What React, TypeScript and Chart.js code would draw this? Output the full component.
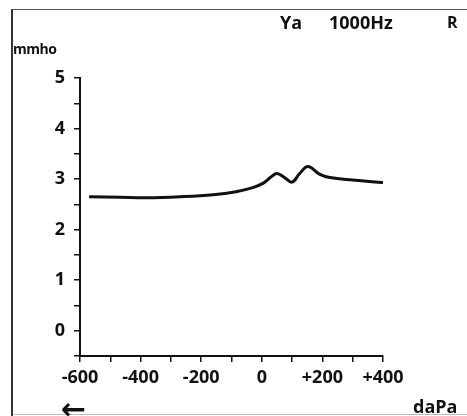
import React, { useEffect, useRef } from "react";
import { Chart, registerables } from "chart.js";

Chart.register(...registerables);

const pressure = [-570, -470, -380, -270, -160, -85, -30, 5, 30, 50, 75, 100, 125, 152, 190, 225, 300, 400];
const admittance = [2.65, 2.64, 2.63, 2.65, 2.69, 2.75, 2.83, 2.92, 3.04, 3.11, 3.03, 2.94, 3.11, 3.25, 3.1, 3.03, 2.98, 2.93];
const xTickLabels = ["-600", "-400", "-200", "0", "+200", "+400"];
const yTickLabels = ["0", "1", "2", "3", "4", "5"];
const yUnit = "mmho";
const xUnit = "daPa";
const header = ["Ya", "1000Hz", "R"];

const FONT = "'Open Sans', 'DejaVu Sans', sans-serif";

export default function App() {
  const ref = useRef<HTMLCanvasElement | null>(null);
  useEffect(() => {
    if (!ref.current) return;
    const chart = new Chart(ref.current, {
      type: "line",
      data: {
        datasets: [
          {
            data: pressure.map((p, i) => ({ x: p, y: admittance[i] })),
            borderColor: "#111",
            borderWidth: 3,
            pointRadius: 0,
            tension: 0.4,
            fill: false,
          },
        ],
      },
      options: {
        animation: false,
        responsive: false,
        maintainAspectRatio: false,
        layout: { padding: { left: 0, top: 78, right: 84, bottom: 0 } },
        plugins: { legend: { display: false }, tooltip: { enabled: false }, title: { display: false } },
        scales: {
          x: {
            type: "linear",
            min: -600,
            max: 400,
            afterFit: (s: any) => {
              s.height = 60;
            },
            border: { display: true, color: "#111", width: 2 },
            grid: { drawOnChartArea: false, drawTicks: true, tickLength: 6, color: "#111", lineWidth: 1.5 },
            ticks: {
              stepSize: 100,
              autoSkip: false,
              maxRotation: 0,
              padding: 5,
              color: "#111",
              font: { family: FONT, size: 18, weight: "bold" },
              callback: (v: any) => {
                const n = Number(v);
                if (n % 200 !== 0) return "";
                const s = n > 0 ? "+" + n : String(n);
                return xTickLabels.includes(s) ? s : "";
              },
            },
          },
          y: {
            type: "linear",
            min: -0.5,
            max: 5,
            afterFit: (s: any) => {
              s.width = 80;
            },
            border: { display: true, color: "#111", width: 2 },
            grid: { drawOnChartArea: false, drawTicks: true, tickLength: 6, color: "#111", lineWidth: 1.5 },
            ticks: {
              stepSize: 0.5,
              autoSkip: false,
              padding: 9,
              color: "#111",
              font: { family: FONT, size: 18, weight: "bold" },
              callback: (v: any) => {
                const n = Number(v);
                return Number.isInteger(n) && yTickLabels.includes(String(n)) ? String(n) : "";
              },
            },
          },
        },
      },
    });
    return () => chart.destroy();
  }, []);

  const textStyle: React.CSSProperties = {
    position: "absolute",
    fontFamily: FONT,
    fontWeight: 700,
    color: "#111",
    whiteSpace: "nowrap",
    lineHeight: 1,
  };

  return (
    <div style={{ position: "fixed", left: 0, top: 0, width: 467, height: 416, background: "#fff", overflow: "hidden" }}>
      <canvas ref={ref} width={467} height={416} style={{ position: "absolute", left: 0, top: 0 }} />
      <div style={{ position: "absolute", left: 11, top: 9, width: 470, height: 420, borderLeft: "2px solid #333", borderTop: "1px solid #555" }} />
      <div style={{ position: "absolute", left: 14, top: 414, width: 460, height: 0, borderTop: "1px solid #bbb" }} />
      <span style={{ ...textStyle, left: 13, top: 42, fontSize: 14, letterSpacing: -0.5 }}>{yUnit}</span>
      <span style={{ ...textStyle, left: 280, top: 13, fontSize: 18 }}>{header[0]}</span>
      <span style={{ ...textStyle, left: 329, top: 13, fontSize: 18 }}>{header[1]}</span>
      <span style={{ ...textStyle, left: 447, top: 14, fontSize: 16 }}>{header[2]}</span>
      <span style={{ ...textStyle, left: 61, top: 393, fontSize: 30 }}>←</span>
      <span style={{ ...textStyle, left: 413, top: 397, fontSize: 18 }}>{xUnit}</span>
    </div>
  );
}
